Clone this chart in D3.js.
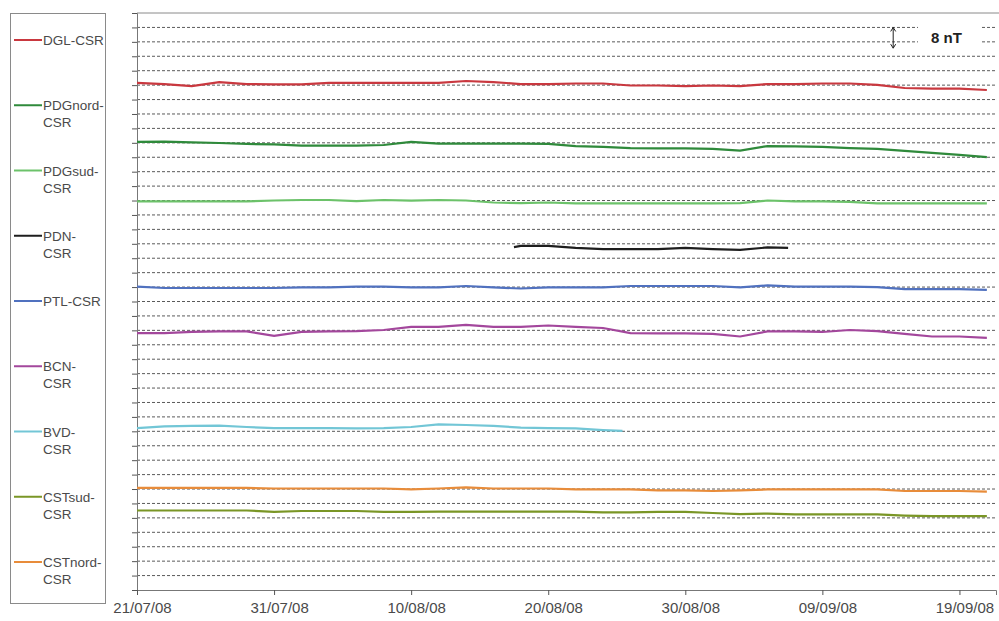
<!DOCTYPE html>
<html lang="en">
<head>
    <meta charset="UTF-8">
    <title>Variations DGL / PDG / PDN / PTL / BCN / BVD / CST - CSR</title>
    <script src="https://d3js.org/d3.v7.min.js"></script>
    <style>
        body {
            margin: 0;
            padding: 0;
            background: #fff;
            font-family: Arial, "Liberation Sans", sans-serif;
        }
        svg {
            display: block;
        }
        text {
            fill: #4a4a4a;
        }
    </style>
</head>
<body>
    <svg id="chart" width="999" height="621"></svg>

    <script>
        // day offsets from 21/07/08 (shared by most series)
        const days = [0, 2, 4, 6, 8, 10, 12, 14, 16, 18, 20, 22, 24, 26, 28, 30,
                      32, 34, 36, 38, 40, 42, 44, 46, 48, 50, 52, 54, 56, 58, 60, 62];
        const pdnDays = [27.5, 28, 30, 32, 34, 36, 38, 40, 42, 44, 46, 47.5];
        const bvdDays = [0, 2, 4, 6, 8, 10, 12, 14, 16, 18, 20, 22, 24, 26, 28, 30, 32, 34, 35.4];

        // differences in nT (arbitrary offsets, 8 nT per grid line)
        const dgl = [281.2, 280.6, 279.5, 281.7, 280.6, 280.4, 280.4, 281.2, 281.2, 281.2, 281.2, 281.2, 282.3, 281.7, 280.6, 280.6,
                     280.9, 280.9, 279.8, 279.8, 279.5, 279.8, 279.5, 280.6, 280.6, 280.9, 280.9, 280.1, 278.4, 278.1, 278.1, 277.3];
        const pdgNord = [248.5, 248.7, 248.2, 247.9, 247.4, 247.1, 246.5, 246.5, 246.5, 246.8, 248.5, 247.6, 247.6, 247.6, 247.6, 247.4,
                         246.2, 245.7, 245.1, 244.9, 244.9, 244.6, 243.7, 246.2, 246.0, 245.7, 245.1, 244.6, 243.5, 242.4, 241.3, 240.1];
        const pdgSud = [215.5, 215.5, 215.5, 215.5, 215.5, 216.0, 216.3, 216.3, 215.7, 216.3, 216.0, 216.3, 216.0, 214.9, 214.6, 214.9,
                        214.4, 214.4, 214.4, 214.4, 214.4, 214.4, 214.6, 216.0, 215.5, 215.5, 215.2, 214.4, 214.4, 214.4, 214.4, 214.4];
        const pdn = [190.2, 190.8, 190.8, 189.7, 189.1, 189.1, 189.1, 189.7, 189.1, 188.6, 190.0, 189.7];
        const ptl = [168.3, 167.5, 167.5, 167.5, 167.5, 167.5, 167.8, 167.8, 168.3, 168.3, 167.8, 167.8, 168.6, 167.8, 167.2, 167.8,
                     167.8, 167.8, 168.6, 168.6, 168.6, 168.6, 167.8, 168.9, 168.3, 168.3, 168.3, 168.0, 166.9, 166.9, 166.9, 166.4];
        const bcn = [142.5, 142.5, 143.1, 143.4, 143.4, 140.9, 143.1, 143.4, 143.6, 144.2, 145.9, 145.9, 147.0, 145.9, 145.9, 146.7,
                     145.9, 145.3, 142.5, 142.3, 142.3, 142.0, 140.6, 143.4, 143.4, 143.1, 144.2, 143.6, 142.0, 140.6, 140.6, 139.8];
        const bvd = [89.8, 90.7, 91.0, 91.2, 90.4, 89.8, 89.8, 89.8, 89.6, 89.8, 90.4, 91.8, 91.5, 91.0, 90.1, 89.8, 89.6, 88.7, 88.2];
        const cstSud = [44.1, 44.1, 44.1, 44.1, 44.1, 43.3, 43.8, 43.8, 43.8, 43.3, 43.3, 43.5, 43.5, 43.5, 43.5, 43.5,
                        43.5, 43.0, 43.0, 43.3, 43.3, 42.7, 42.1, 42.4, 41.9, 41.9, 41.9, 41.9, 41.3, 41.0, 41.0, 41.0];
        const cstNord = [56.6, 56.6, 56.6, 56.6, 56.6, 56.3, 56.3, 56.3, 56.3, 56.3, 55.8, 56.3, 56.9, 56.3, 56.3, 56.3,
                         55.8, 55.8, 55.8, 55.2, 55.2, 54.9, 55.2, 55.8, 55.8, 55.8, 55.8, 55.8, 54.9, 54.9, 54.9, 54.6];

        const tickLabels = ["21/07/08", "31/07/08", "10/08/08", "20/08/08", "30/08/08", "09/09/08", "19/09/08"];

        const series = [
            { name: ["DGL-CSR"], color: "#c9383f", days: days, values: dgl },
            { name: ["PDGnord-", "CSR"], color: "#2f8a3b", days: days, values: pdgNord },
            { name: ["PDGsud-", "CSR"], color: "#6cc26a", days: days, values: pdgSud },
            { name: ["PDN-", "CSR"], color: "#1e1e1e", days: pdnDays, values: pdn },
            { name: ["PTL-CSR"], color: "#5071bf", days: days, values: ptl },
            { name: ["BCN-", "CSR"], color: "#a3479c", days: days, values: bcn },
            { name: ["BVD-", "CSR"], color: "#72c6d6", days: bvdDays, values: bvd },
            { name: ["CSTsud-", "CSR"], color: "#7a9626", days: days, values: cstSud },
            { name: ["CSTnord-", "CSR"], color: "#e88c3a", days: days, values: cstNord }
        ];

        const parse = d3.timeParse("%d/%m/%y");
        const start = parse("21/07/08");
        const toDate = d => d3.timeHour.offset(start, Math.round(d * 24));

        const svg = d3.select("#chart");
        const plot = { left: 137, right: 996, top: 13, bottom: 590 };

        const x = d3.scaleTime()
            .domain([start, d3.timeHour.offset(start, 62.7 * 24)])
            .range([plot.left, plot.right]);

        const y = d3.scaleLinear()
            .domain([0, 320])
            .range([plot.bottom, plot.top]);

        const gridValues = d3.range(0, 321, 8);

        // dashed horizontal grid
        svg.append("g")
            .selectAll("line")
            .data(gridValues.filter(v => v > 0 && v < 320))
            .enter().append("line")
            .attr("x1", plot.left)
            .attr("x2", plot.right)
            .attr("y1", d => y(d))
            .attr("y2", d => y(d))
            .attr("stroke", "#5a5a5a")
            .attr("stroke-width", 1)
            .attr("stroke-dasharray", "3,2");

        // top border of plot area
        svg.append("line")
            .attr("x1", plot.left).attr("x2", plot.right + 3)
            .attr("y1", y(320)).attr("y2", y(320))
            .attr("stroke", "#8a8a8a");

        // y axis: ticks only, no labels
        const yAxis = svg.append("g")
            .attr("transform", `translate(${plot.left},0)`)
            .call(d3.axisLeft(y).tickValues(gridValues).tickSize(5).tickFormat(""));
        yAxis.select(".domain").attr("stroke", "#777");
        yAxis.selectAll(".tick line").attr("stroke", "#555");

        // x axis
        const xAxis = svg.append("g")
            .attr("transform", `translate(0,${plot.bottom})`)
            .call(d3.axisBottom(x)
                .tickValues(tickLabels.map(parse))
                .tickSize(5)
                .tickFormat(d3.timeFormat("%d/%m/%y")));
        xAxis.select(".domain").attr("stroke", "#777");
        xAxis.selectAll(".tick line").attr("stroke", "#555");
        xAxis.selectAll(".tick text")
            .attr("dx", 5)
            .attr("dy", "1.0em")
            .attr("font-family", "Arial, 'Liberation Sans', sans-serif")
            .attr("font-size", 15)
            .attr("fill", "#4a4a4a");

        // series lines
        const line = d3.line()
            .x(d => x(d[0]))
            .y(d => y(d[1]));

        svg.append("g")
            .selectAll("path")
            .data(series)
            .enter().append("path")
            .attr("fill", "none")
            .attr("stroke", d => d.color)
            .attr("stroke-width", 2.2)
            .attr("d", d => line(d.days.map((t, i) => [toDate(t), d.values[i]])));

        // 8 nT scale marker
        const markX = x(d3.timeHour.offset(start, 55.2 * 24));
        svg.append("rect")
            .attr("x", 918).attr("y", y(315)).attr("width", 62).attr("height", y(298) - y(315))
            .attr("fill", "#fff");
        svg.append("line")
            .attr("x1", markX).attr("x2", markX)
            .attr("y1", y(312)).attr("y2", y(300.5))
            .attr("stroke", "#222").attr("stroke-width", 1);
        svg.append("path")
            .attr("d", `M${markX - 2.5},${y(312) + 4}L${markX},${y(312)}L${markX + 2.5},${y(312) + 4}`)
            .attr("fill", "none").attr("stroke", "#222");
        svg.append("path")
            .attr("d", `M${markX - 2.5},${y(300.5) - 4}L${markX},${y(300.5)}L${markX + 2.5},${y(300.5) - 4}`)
            .attr("fill", "none").attr("stroke", "#222");
        svg.append("text")
            .attr("x", 931).attr("y", y(304) + 1)
            .attr("font-size", 15)
            .attr("font-weight", "bold")
            .style("fill", "#222")
            .text("8 nT");

        // legend
        const legend = svg.append("g");
        legend.append("rect")
            .attr("x", 10.5).attr("y", 13.5)
            .attr("width", 95).attr("height", 590)
            .attr("fill", "#fff")
            .attr("stroke", "#8a8a8a");

        const item = legend.selectAll("g.item")
            .data(series)
            .enter().append("g")
            .attr("class", "item")
            .attr("transform", (d, i) => `translate(0,${40 + i * 65.25})`);

        item.append("line")
            .attr("x1", 14).attr("x2", 42)
            .attr("y1", 0).attr("y2", 0)
            .attr("stroke", d => d.color)
            .attr("stroke-width", 2);

        item.append("text")
            .attr("x", 43)
            .attr("y", 5)
            .attr("font-size", 13.5)
            .selectAll("tspan")
            .data(d => d.name)
            .enter().append("tspan")
            .attr("x", 43)
            .attr("dy", (d, i) => i === 0 ? 0 : 17)
            .text(d => d);
    </script>
</body>
</html>
